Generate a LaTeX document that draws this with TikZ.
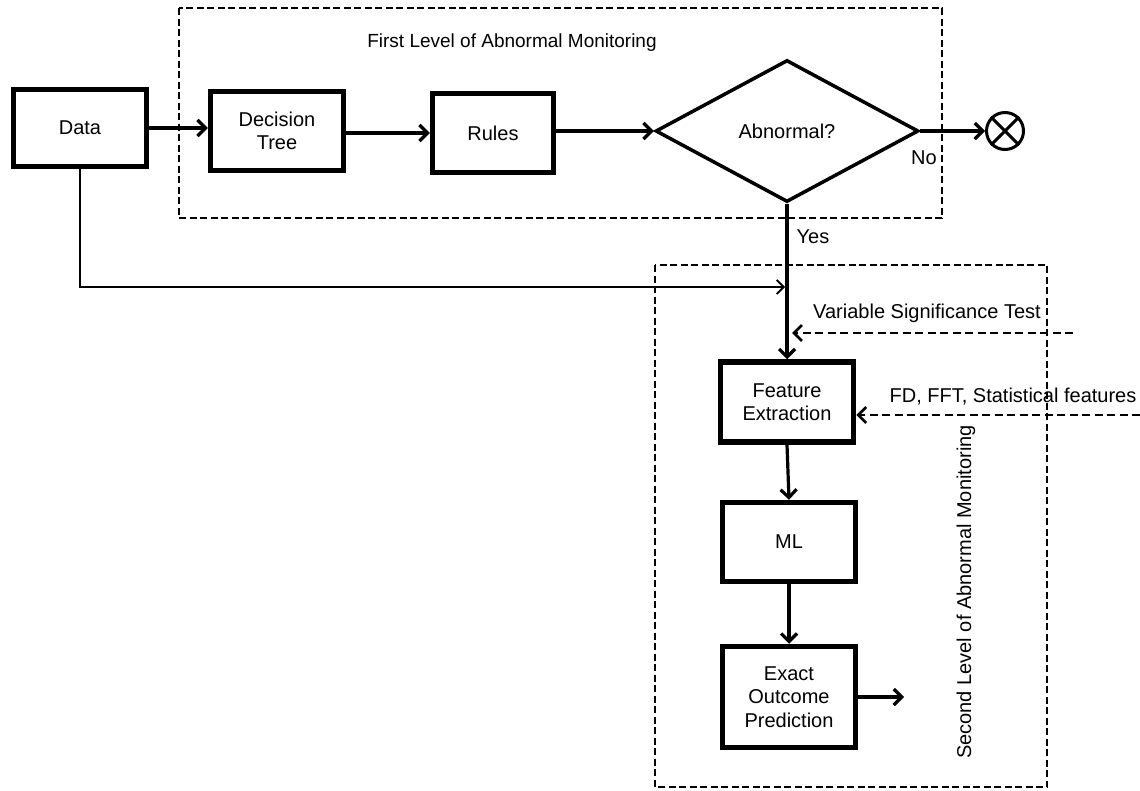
\documentclass[tikz,border=0pt]{standalone}
\usepackage{fontspec}
\setmainfont{Liberation Sans}
\usetikzlibrary{shapes.geometric,arrows.meta}
\begin{document}
\begin{tikzpicture}[x=1pt,y=-1pt,
  box/.style={draw,line width=5.5pt,minimum width=133pt,minimum height=77pt,inner sep=0pt,align=center,font=\fontsize{20}{23.5}\selectfont},
  dbox/.style={draw,line width=2.5pt,dash pattern=on 7pt off 3.5pt},
  arr/.style={line width=3.2pt,-{Straight Barb[length=8pt,width=16pt,line width=3.2pt]}},
  thinarr/.style={line width=1.8pt,-{Straight Barb[length=7pt,width=14pt,line width=1.8pt]}},
  darr/.style={line width=2.8pt,dash pattern=on 8pt off 4.5pt,-{Straight Barb[length=8pt,width=16pt,line width=2.8pt]}},
  lbl/.style={font=\fontsize{20}{22}\selectfont,inner sep=0pt}]
\useasboundingbox (0,0) rectangle (1140,790);
% dashed frames
\draw[dbox] (179,8) rectangle (942,218);
\draw[dbox] (655,265) rectangle (1047,787);
\node[lbl,font=\fontsize{19}{21}\selectfont] (t1) at (512,43) {First Level of Abnormal Monitoring};
\node[lbl,rotate=90] (t2) at (966,592) {Second Level of Abnormal Monitoring};
% nodes
\node[box] (data) at (80,128) {Data};
\node[box,minimum height=79pt] (dt) at (277,131) {Decision\\Tree};
\node[box,minimum width=121pt,minimum height=79pt] (rules) at (493,133) {Rules};
\node[draw,diamond,line width=3.5pt,minimum width=263pt,minimum height=142pt,inner sep=0pt,font=\fontsize{20}{22}\selectfont] (ab) at (787,131) {Abnormal?};
\node[draw,circle,line width=3pt,minimum size=37pt,inner sep=0pt] (x) at (1005,131) {};
\draw[line width=3pt] (x.45) -- (x.225) (x.135) -- (x.315);
\node[box,minimum height=80pt] (fe) at (787,402) {Feature\\Extraction};
\node[box,minimum height=79pt] (ml) at (789,542) {ML};
\node[box,minimum height=101pt] (eop) at (789,697) {Exact\\Outcome\\Prediction};
% connectors
\draw[arr] (data.east) -- (data.east -| dt.west);
\draw[arr] (dt.east |- rules.west) -- (rules.west);
\draw[arr] (rules.east |- ab.west) -- (ab.west);
\draw[arr] (ab.east) -- (x.west);
\node[lbl] (no) at (924,158) {No};
\draw[arr] (ab.south) -- (fe.north -| ab.south);
\node[lbl] (yes) at (813,237) {Yes};
\coordinate (dj) at (785,287);
\draw[thinarr] (data.south) |- (dj);
\coordinate (vs) at (1073,333);
\draw[darr] (vs) -- (792,333);
\node[lbl] (vst) at (927,313) {Variable Significance Test};
\coordinate (fd) at (1140,415);
\draw[darr] (fd) -- (fe.east |- fd);
\node[lbl] (fdt) at (1013,397) {FD, FFT, Statistical features};
\draw[arr] (fe.south) -- (ml.north);
\draw[arr] (ml.south) -- (eop.north);
\coordinate (out) at (904,697);
\draw[arr] (eop.east) -- (out);
\end{tikzpicture}
\end{document}
